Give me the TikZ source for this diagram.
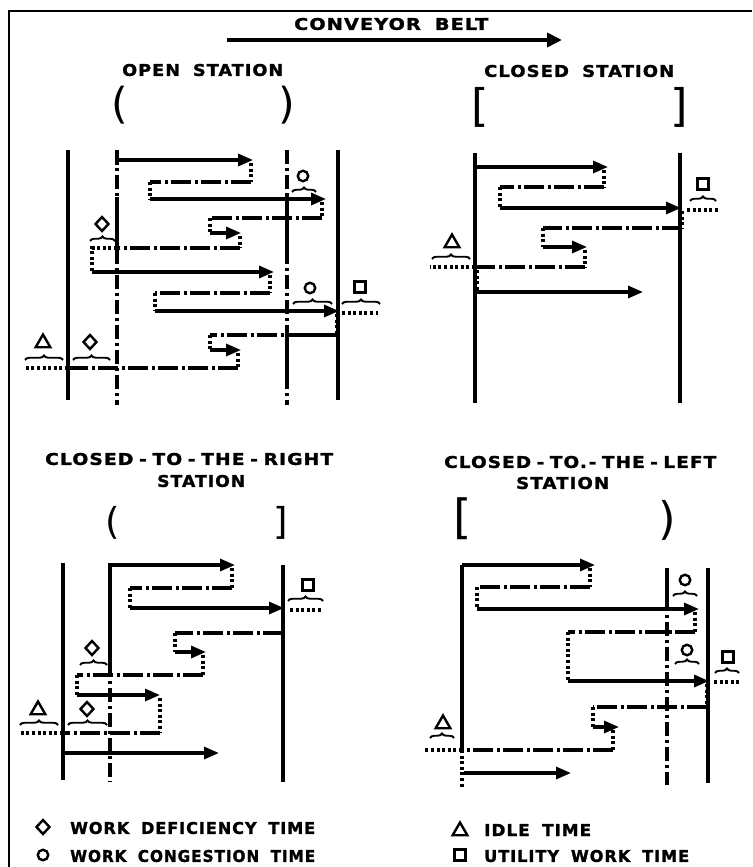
\documentclass[tikz,border=0pt]{standalone}
\usepackage{fontspec}
\usepackage{graphicx}
\usetikzlibrary{arrows.meta,shapes.geometric,decorations.pathreplacing}
\newfontfamily\lblfont{DejaVu Sans}[LetterSpace=6,WordSpace=1.8,BoldFeatures={FakeBold=1.5}]
\newfontfamily\dlmfont{DejaVu Sans}
\newcommand\lbl[3]{\resizebox{#1}{#2}{\lblfont\bfseries #3}}
\newcommand\dlm[2]{\resizebox*{!}{#1}{\dlmfont #2}}
\tikzset{
  wl/.style={line width=3.4pt},
  vdd/.style={line width=3.4pt, dash pattern=on 14pt off 4pt on 3pt off 4pt},
  hdd/.style={line width=3.1pt, dash pattern=on 20pt off 3.5pt on 3pt off 3.5pt},
  dt/.style={line width=3.1pt, dash pattern=on 3pt off 2.6pt},
  ar/.style={line width=3.2pt, -{Triangle[length=15pt,width=12pt]}},
  br/.style={line width=1.9pt, decorate, decoration={brace,amplitude=4.5pt}},
  dia/.style={draw, diamond, line width=2.4pt, minimum width=14pt, minimum height=15pt, inner sep=0pt},
  cir/.style={draw, circle, line width=2.4pt, minimum size=10.5pt, inner sep=0pt},
  tri/.style={draw, regular polygon, regular polygon sides=3, line width=2.4pt, minimum size=17pt, inner sep=0pt},
  sq/.style={draw, rectangle, line width=2.4pt, minimum size=11pt, inner sep=0pt},
  txt/.style={anchor=west, inner sep=0pt},
  dl/.style={inner sep=0pt}
}
\begin{document}
\begin{tikzpicture}[x=1pt,y=-1pt]
\useasboundingbox (0,0) rectangle (752,867);
% frame
\draw[line width=2.8pt] (752,11) -- (9,11) -- (9,867);

% headings
\node[txt] (tconv) at (294,24) {\lbl{194pt}{12pt}{CONVEYOR BELT}};
\draw[line width=4.5pt, -{Triangle[length=15pt,width=14pt]}] (227,40) -- (562,40);
\node[txt] (topen) at (122,70) {\lbl{161pt}{12pt}{OPEN STATION}};
\node[txt] (tclosed) at (484,71) {\lbl{190pt}{12pt}{CLOSED STATION}};
\node[txt] (tright) at (45,459) {\lbl{288pt}{12pt}{CLOSED\kern3pt-\kern3pt TO\kern3pt-\kern3pt THE\kern3pt-\kern3pt RIGHT}};
\node[txt] (tright2) at (157,481) {\lbl{88pt}{12pt}{STATION}};
\node[txt] (tleft) at (444,462) {\lbl{272pt}{12pt}{CLOSED\kern3pt-\kern3pt TO.\kern1pt-\kern3pt THE\kern3pt-\kern3pt LEFT}};
\node[txt] (tleft2) at (516,483) {\lbl{93pt}{12pt}{STATION}};

% delimiters
\node[dl] (d1) at (120,105) {\dlm{38pt}{(}};
\node[dl] (d2) at (287,105) {\dlm{38pt}{)}};
\node[dl] (d3) at (480,107) {\dlm{40pt}{[}};
\node[dl] (d4) at (679,107) {\dlm{40pt}{]}};
\node[dl] (d5) at (113,523) {\dlm{33pt}{(}};
\node[dl] (d6) at (281,523) {\dlm{33pt}{]}};
\node[dl] (d7) at (463,519) {\dlm{42pt}{[}};
\node[dl] (d8) at (667,520) {\dlm{40pt}{)}};

% ===== Q1 open station =====
\draw[wl] (68,150) -- (68,400);
\draw[vdd] (117,150) -- (117,405);
\draw[wl] (117,150) -- (117,165);
\draw[wl] (117,197) -- (117,250);
\draw[vdd] (287,150) -- (287,405);
\draw[wl] (287,195) -- (287,260);
\draw[wl] (287,325) -- (287,380);
\draw[wl] (338,150) -- (338,400);

\draw[ar] (117,160) -- (253,160);
\draw[dt] (251,163) -- (251,182);
\draw[hdd] (251,182) -- (150,182);
\draw[dt] (150,182) -- (150,199);
\draw[ar] (150,199) -- (326,199);
\draw[dt] (322,202) -- (322,218);
\draw[hdd] (322,218) -- (210,218);
\draw[dt] (210,218) -- (210,233);
\draw[ar] (210,233) -- (241,233);
\draw[dt] (240,236) -- (240,248);
\draw[hdd] (240,248) -- (117,248);
\draw[dt] (117,248) -- (92,248) -- (92,272);
\draw[ar] (92,272) -- (274,272);
\draw[dt] (270,275) -- (270,293);
\draw[hdd] (270,293) -- (155,293);
\draw[dt] (155,293) -- (155,311);
\draw[ar] (155,311) -- (339,311);
\draw[dt] (342,313) -- (378,313);
\draw[dt] (337,314) -- (337,335);
\draw[hdd] (337,335) -- (210,335);
\draw[wl] (287,335) -- (337,335);
\draw[dt] (210,335) -- (210,350);
\draw[ar] (210,350) -- (241,350);
\draw[dt] (238,353) -- (238,368);
\draw[hdd] (238,368) -- (68,368);
\draw[dt] (68,368) -- (26,368);

\node[cir] (c1) at (303,176) {};
\draw[br] (292,192) -- (316,192);
\node[dia] (m1) at (102,224) {};
\draw[br] (90,241) -- (115,241);
\node[cir] (c2) at (310,288) {};
\draw[br] (293,304) -- (332,304);
\node[sq] (q1) at (360,287) {};
\draw[br] (342,304) -- (380,304);
\node[tri] (t1) at (43,343) {};
\draw[br] (25,360) -- (63,360);
\node[dia] (m2) at (90,342) {};
\draw[br] (73,360) -- (110,360);

% ===== Q2 closed station =====
\draw[wl] (475,153) -- (475,403);
\draw[wl] (680,153) -- (680,403);
\draw[ar] (475,167) -- (608,167);
\draw[dt] (604,170) -- (604,187);
\draw[hdd] (604,187) -- (500,187);
\draw[dt] (500,187) -- (500,208);
\draw[ar] (500,208) -- (681,208);
\draw[dt] (687,210) -- (718,210);
\node[sq] (q2) at (703,184) {};
\draw[br] (690,201) -- (716,201);
\draw[dt] (682,211) -- (682,228);
\draw[hdd] (682,228) -- (543,228);
\draw[dt] (543,228) -- (543,247);
\draw[ar] (543,247) -- (587,247);
\draw[dt] (585,250) -- (585,267);
\draw[hdd] (585,267) -- (475,267);
\draw[dt] (475,267) -- (430,267);
\node[tri] (t2) at (452,243) {};
\draw[br] (432,259) -- (470,259);
\draw[dt] (477,270) -- (477,292);
\draw[ar] (477,292) -- (643,292);

% ===== Q3 closed to the right =====
\draw[wl] (63,563) -- (63,780);
\draw[wl] (110,563) -- (110,663);
\draw[vdd] (110,663) -- (110,782);
\draw[wl] (283,565) -- (283,782);
\draw[ar] (110,565) -- (235,565);
\draw[dt] (232,568) -- (232,588);
\draw[hdd] (232,588) -- (130,588);
\draw[dt] (130,588) -- (130,608);
\draw[ar] (130,608) -- (284,608);
\draw[dt] (290,610) -- (323,610);
\node[sq] (q3) at (308,585) {};
\draw[br] (288,601) -- (323,601);
\draw[dt] (283,611) -- (283,633);
\draw[hdd] (283,633) -- (175,633);
\draw[dt] (175,633) -- (175,652);
\draw[ar] (175,652) -- (206,652);
\draw[dt] (203,655) -- (203,675);
\draw[hdd] (203,675) -- (77,675);
\draw[dt] (77,675) -- (77,695);
\draw[ar] (77,695) -- (160,695);
\node[dia] (m3) at (92,648) {};
\draw[br] (80,665) -- (107,665);
\draw[dt] (160,698) -- (160,733);
\draw[hdd] (160,733) -- (63,733);
\draw[dt] (63,733) -- (21,733);
\node[tri] (t3) at (38,710) {};
\draw[br] (20,725) -- (58,725);
\node[dia] (m4) at (87,709) {};
\draw[br] (68,725) -- (107,725);
\draw[dt] (63,736) -- (63,753);
\draw[ar] (65,753) -- (219,753);

% ===== Q4 closed to the left =====
\draw[wl] (462,565) -- (462,750);
\draw[dt] (462,750) -- (462,787);
\draw[wl] (667,568) -- (667,597);
\draw[vdd] (667,597) -- (667,785);
\draw[wl] (708,568) -- (708,783);
\draw[ar] (462,565) -- (595,565);
\draw[dt] (590,568) -- (590,587);
\draw[hdd] (590,587) -- (477,587);
\draw[dt] (477,587) -- (477,608);
\draw[ar] (477,609) -- (699,609);
\node[cir] (c3) at (685,580) {};
\draw[br] (673,596) -- (697,596);
\draw[dt] (695,612) -- (695,632);
\draw[hdd] (695,632) -- (568,632);
\draw[dt] (568,632) -- (568,681);
\draw[ar] (568,681) -- (709,681);
\node[cir] (c4) at (687,650) {};
\draw[br] (675,664) -- (699,664);
\node[sq] (q4) at (728,657) {};
\draw[br] (715,673) -- (739,673);
\draw[dt] (714,682) -- (741,682);
\draw[dt] (707,684) -- (707,707);
\draw[hdd] (707,707) -- (593,707);
\draw[dt] (593,707) -- (593,727);
\draw[ar] (593,727) -- (619,727);
\draw[dt] (613,730) -- (613,750);
\draw[hdd] (613,750) -- (462,750);
\draw[dt] (462,750) -- (425,750);
\node[tri] (t4) at (443,724) {};
\draw[br] (430,738) -- (454,738);
\draw[ar] (464,773) -- (571,773);

% ===== legend =====
\node[dia] (lm) at (43,827) {};
\node[txt] (l1) at (70,828) {\lbl{245pt}{12pt}{WORK DEFICIENCY TIME}};
\node[cir] (lc) at (43,855) {};
\node[txt] (l2) at (70,856) {\lbl{245pt}{12pt}{WORK CONGESTION TIME}};
\node[tri] (lt) at (460,831) {};
\node[txt] (l3) at (484,830) {\lbl{107pt}{12pt}{IDLE TIME}};
\node[sq] (lq) at (460,855) {};
\node[txt] (l4) at (484,856) {\lbl{205pt}{12pt}{UTILITY WORK TIME}};
\end{tikzpicture}
\end{document}
